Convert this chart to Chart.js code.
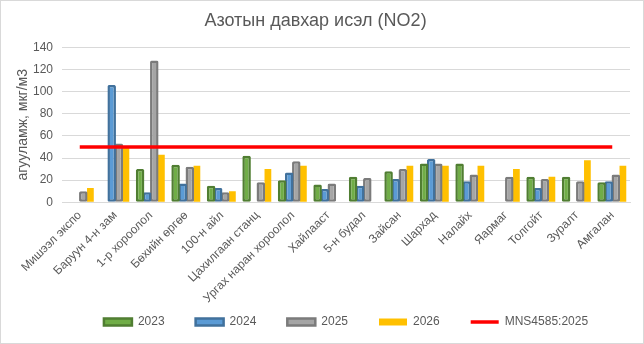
<!DOCTYPE html>
<html>
<head>
<meta charset="utf-8">
<script src="https://cdn.jsdelivr.net/npm/chart.js@4/dist/chart.umd.min.js"></script>
<style>
    html, body { margin: 0; padding: 0; background: #fff; }
    #frame {
        position: absolute; left: 0; top: 0;
        width: 644px; height: 344px;
        box-sizing: border-box;
        border: 1px solid #d9d9d9;
        background: #fff;
    }
    #chart { display: block; }
</style>
</head>
<body>
<div id="frame"><canvas id="chart" width="642" height="342"></canvas></div>
<script>
const stations = [
    'Мишээл экспо', 'Баруун 4-н зам', '1-р хороолол', 'Бөхийн өргөө',
    '100-н айл', 'Цахилгаан станц', 'Ургах наран хороолол', 'Хайлааст',
    '5-н будал', 'Зайсан', 'Шархад', 'Налайх', 'Яармаг', 'Толгойт',
    'Зуралт', 'Амгалан'
];
const no2_2023 = [null, null, 30, 34, 15, 42, 20, 16, 23, 28, 35, 35, null, 23, 23, 18];
const no2_2024 = [null, 106, 9, 17, 13, null, 27, 12, 15, 21, 39, 19, null, 13, null, 19];
const no2_2025 = [10, 53, 128, 32, 9, 18, 37, 17, 22, 30, 35, 25, 23, 21, 19, 25];
const no2_2026 = [13, 49, 43, 33, 10, 30, 33, null, null, 33, 33, 33, 30, 23, 38, 33];
// MNS4585:2025 limit, мкг/м3
const mnsLimit = [50, 50, 50, 50, 50, 50, 50, 50, 50, 50, 50, 50, 50, 50, 50, 50];
const yTicks = [0, 20, 40, 60, 80, 100, 120, 140];

(function () {
    const textColor = '#595959';
    const gridColor = '#d9d9d9';
    const fontFamily = '"Liberation Sans", Arial, sans-serif';

    Chart.defaults.font.family = fontFamily;
    Chart.defaults.color = textColor;

    function barSet(label, data, fill, edge) {
        return {
            type: 'bar',
            label: label,
            data: data,
            backgroundColor: fill,
            borderColor: edge,
            borderWidth: edge ? 2.5 : 0,
            borderSkipped: false,
            borderRadius: edge ? 1.5 : 0,
            barPercentage: edge ? 1.2 : 0.95,
            categoryPercentage: 0.8,
            pointStyle: 'rect'
        };
    }

    const datasets = [
        barSet('2023', no2_2023, '#70ad47', '#507e32'),
        barSet('2024', no2_2024, '#5b9bd5', '#41719c'),
        barSet('2025', no2_2025, '#a5a5a5', '#7b7b7b'),
        barSet('2026', no2_2026, '#ffc000', null),
        {
            type: 'line',
            label: 'MNS4585:2025',
            data: mnsLimit,
            borderColor: '#ff0000',
            backgroundColor: '#ff0000',
            borderWidth: 3.5,
            pointRadius: 0,
            pointStyle: 'line',
            order: -1
        }
    ];

    const ctx = document.getElementById('chart').getContext('2d');
    new Chart(ctx, {
        data: { labels: stations, datasets: datasets },
        options: {
            responsive: false,
            animation: false,
            devicePixelRatio: 1,
            layout: { padding: { left: 0, right: 13, top: 0, bottom: 5 } },
            plugins: {
                tooltip: { enabled: false },
                title: {
                    display: true,
                    text: 'Азотын давхар исэл (NO2)',
                    color: textColor,
                    font: { size: 18, weight: 'normal' },
                    padding: { top: 9, bottom: 15.7 }
                },
                legend: {
                    position: 'bottom',
                    fullSize: false,
                    labels: {
                        usePointStyle: true,
                        pointStyleWidth: 28,
                        boxHeight: 7,
                        padding: 31,
                        color: textColor,
                        font: { size: 12 },
                        sort: (a, b) => a.datasetIndex - b.datasetIndex
                    }
                }
            },
            scales: {
                x: {
                    offset: true,
                    grid: { display: false, drawTicks: false },
                    border: { display: true, color: gridColor, width: 1 },
                    ticks: {
                        autoSkip: false,
                        maxRotation: 45,
                        minRotation: 45,
                        padding: 6,
                        color: textColor,
                        font: { size: 12 }
                    },
                    afterFit: (scale) => {
                        scale.height = 82.7;
                        // long rotated names run down past the axis box into the legend row
                        scale._computeLabelArea = () => undefined;
                    }
                },
                y: {
                    min: 0,
                    max: 140,
                    afterBuildTicks: (scale) => {
                        scale.ticks = yTicks.map(v => ({ value: v }));
                    },
                    grid: { color: gridColor, drawTicks: false },
                    border: { display: false },
                    ticks: {
                        padding: 9,
                        color: textColor,
                        font: { size: 12 }
                    },
                    title: {
                        display: true,
                        text: 'агууламж, мкг/м3',
                        color: textColor,
                        font: { size: 14 },
                        padding: { top: 13.6, bottom: 0 }
                    },
                    afterFit: (scale) => { scale.width = 61; }
                }
            }
        }
    });
}());
</script>
</body>
</html>
